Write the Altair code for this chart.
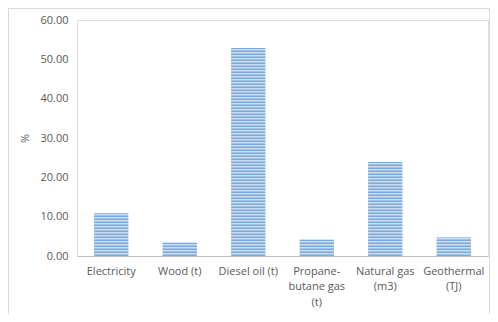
import altair as alt
import pandas as pd

categories = ["Electricity", "Wood (t)", "Diesel oil (t)", "Propane-butane gas (t)",
              "Natural gas (m3)", "Geothermal (TJ)"]
label_lines = [["Electricity"], ["Wood (t)"], ["Diesel oil (t)"],
               ["Propane-", "butane gas", "(t)"], ["Natural gas", "(m3)"],
               ["Geothermal", "(TJ)"]]
values = [10.9, 3.4, 52.9, 4.1, 23.9, 4.7]
y_ticks = [0, 10, 20, 30, 40, 50, 60]

df = pd.DataFrame({"category": categories, "value": values})

# multi-line axis labels
expr_parts = []
for cat, lines in zip(categories, label_lines):
    arr = "[" + ", ".join("'" + l + "'" for l in lines) + "]"
    expr_parts.append(f"datum.label == '{cat}' ? {arr} : ")
label_expr = "".join(expr_parts) + "datum.label"

FONT = "Open Sans"
GREY = "#595959"

x_axis = alt.Axis(title=None, labelAngle=0, ticks=False, domainColor="#bfbfbf",
                  domainWidth=1, labelPadding=9, labelLineHeight=15.5,
                  labelExpr=label_expr, labelFont=FONT, labelFontSize=11,
                  labelColor=GREY, labelBaseline="top", labelOverlap=False)
y_axis = alt.Axis(title="%", values=y_ticks, tickCount=7, format=".2f", grid=False,
                  ticks=False, domain=False, labelPadding=9, labelFont=FONT,
                  labelFontSize=11, labelColor=GREY, labelOverlap=False,
                  titleFont=FONT, titleFontSize=11, titleFontWeight="normal",
                  titleColor=GREY, titleAngle=270, titleX=-52, titleY=118,
                  titleAlign="center", titleBaseline="middle")
x_scale = alt.Scale(paddingInner=0.5, paddingOuter=0.25)
y_scale = alt.Scale(domain=[0, 60], nice=False)

base = alt.Chart(df).mark_bar(color="#c9dcf0").encode(
    x=alt.X("category:N", sort=categories, scale=x_scale, axis=x_axis),
    y=alt.Y("value:Q", scale=y_scale, axis=y_axis),
)

stripes = alt.Chart(df).transform_calculate(
    s="sequence(0, datum.value, 0.7627)"
).transform_flatten(["s"]).transform_calculate(
    s2="min(datum.s + 0.38, datum.value)"
).mark_bar(color="#7eaad9").encode(
    x=alt.X("category:N", sort=categories, scale=x_scale, axis=x_axis),
    y=alt.Y("s:Q", scale=y_scale, axis=y_axis),
    y2="s2:Q",
)

border = alt.Chart(pd.DataFrame({"a": [0]})).mark_rect(
    fillOpacity=0, stroke="#d9d9d9", strokeWidth=1
).encode(x=alt.value(-68.5), x2=alt.value(412.5), y=alt.value(-11.5), y2=alt.value(400))

chart = alt.layer(base, stripes, border).properties(
    width=411, height=236,
    autosize=alt.AutoSizeParams(type="none"),
    padding={"left": 69, "top": 12, "right": 2, "bottom": 58},
).configure_view(strokeWidth=0).configure(background="white")

chart.save("out.html", embed_options={"renderer": "svg", "actions": False})
